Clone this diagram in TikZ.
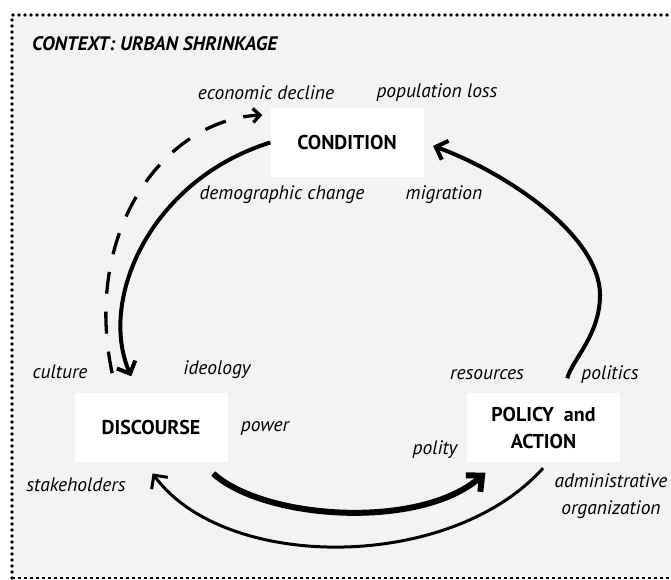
\documentclass[tikz,border=0pt]{standalone}
\usepackage{fontspec}
\setmainfont{PT Sans}
\usetikzlibrary{arrows.meta}
\definecolor{paper}{HTML}{F3F3F3}
\begin{document}
\begin{tikzpicture}[x=1pt,y=-1pt,
  stage/.style={fill=white, minimum width=153pt, minimum height=69pt, inner sep=0pt,
    font=\fontsize{20}{27}\selectfont\bfseries, align=center},
  factor/.style={font=\fontsize{19.5}{27}\selectfont\itshape, inner sep=0pt, align=center},
  flow/.style={line width=4pt, -{Straight Barb[length=10pt,width=20pt]}},
  hint/.style={line width=3.3pt, dash pattern=on 22pt off 18pt,
    -{Straight Barb[length=7pt,width=14pt]}}]
\useasboundingbox (0,0) rectangle (671,580);

% frame of the context
\fill[paper] (12,15) rectangle (671,578);
\draw[line width=3.6pt, line cap=round, dash pattern=on 0pt off 6pt] (12,578) -- (12,15) -- (671,15);
\draw[line width=1.5pt, dash pattern=on 3pt off 3pt] (12,578) -- (671,578);
\node[anchor=west, inner sep=0pt, font=\fontsize{19.5}{20}\selectfont\bfseries\itshape] (ctx) at (32,44) {CONTEXT: URBAN SHRINKAGE};

% the three stages
\node[stage] (cond) at (347,142.5) {CONDITION};
\node[stage] (disc) at (151,427.5) {DISCOURSE};
\node[stage] (pol)  at (543.5,427.5) {POLICY\enspace and\\ACTION};

% factors around the stages
\node[factor] (econ) at (266,93)  {economic decline};
\node[factor] (popl) at (437,93)  {population loss};
\node[factor] (demo) at (282,195) {demographic change};
\node[factor] (migr) at (444,195) {migration};
\node[factor] (cult) at (60,372)  {culture};
\node[factor] (ideo) at (217,370) {ideology};
\node[factor] (powr) at (265,428) {power};
\node[factor] (stak) at (76,485)  {stakeholders};
\node[factor] (plty) at (435,450) {polity};
\node[factor] (reso) at (487,375) {resources};
\node[factor] (pols) at (610,375) {politics};
\node[factor] (admn) at (611,496) {administrative\\organization};

% connections
\draw[flow, shorten >=18pt] (cond.west) .. controls (150,180) and (98,300) .. (disc.110);
\draw[hint, shorten <=20pt, shorten >=8pt] (disc.135) .. controls (82,230) and (165,120) .. (cond.160);
\draw[flow, shorten <=15pt, shorten >=10pt] (pol.60) .. controls (572,360) and (600,335) .. (600,295)
  .. controls (600,235) and (505,172) .. (cond.east);
\draw[line width=6pt, -{Straight Barb[length=12pt,width=22pt]}, shorten <=17pt, shorten >=16pt]
  (disc.-35.5) .. controls (265,520) and (420,530) .. (pol.-143);
\draw[flow, line width=3pt, shorten <=8pt, shorten >=14pt]
  (pol.-82) .. controls (450,572) and (225,572) .. (disc.-101);
\end{tikzpicture}
\end{document}
